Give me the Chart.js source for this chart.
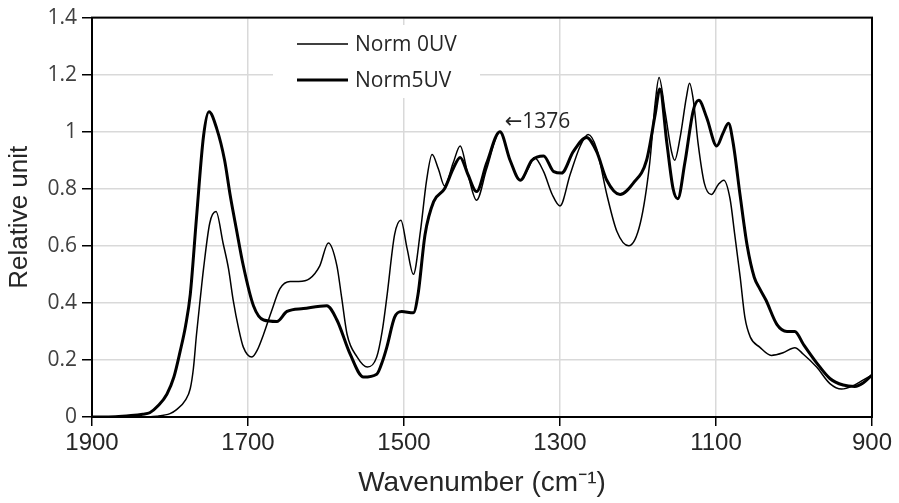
<!DOCTYPE html>
<html>
<head>
<meta charset="utf-8">
<script src="https://cdn.jsdelivr.net/npm/chart.js@4.4.1/dist/chart.umd.min.js"></script>
<style>
  html, body { margin: 0; padding: 0; background: #fff; }
  #wrap { width: 899px; height: 503px; }
</style>
</head>
<body>
<div id="wrap"><canvas id="ftirChart" width="899" height="503"></canvas></div>
<script>
// Wavenumbers (cm-1) and relative units
const wn0UV = [1900, 1840, 1817, 1800, 1792, 1780, 1774, 1770, 1766, 1761, 1757, 1749, 1741, 1732, 1725, 1719, 1712, 1706, 1695, 1688, 1680, 1670, 1659, 1646, 1635, 1621, 1608, 1597, 1586, 1580, 1573, 1560, 1547, 1535, 1528, 1522, 1512, 1504, 1496, 1488, 1479, 1471, 1464, 1456, 1448, 1437, 1428, 1418, 1407, 1394, 1377, 1364, 1351, 1341, 1333, 1321, 1310, 1300, 1287, 1274, 1264, 1253, 1240, 1227, 1212, 1197, 1185, 1178, 1173, 1165, 1157, 1153, 1146, 1138, 1134, 1129, 1123, 1115, 1106, 1097, 1090, 1082, 1076, 1069, 1063, 1056, 1044, 1029, 1014, 999, 988, 971, 954, 939, 924, 911, 900];
const norm0UV = [0, 0, 0.003, 0.012, 0.025, 0.06, 0.10, 0.17, 0.29, 0.42, 0.52, 0.68, 0.72, 0.61, 0.52, 0.41, 0.31, 0.245, 0.21, 0.235, 0.29, 0.37, 0.45, 0.475, 0.475, 0.485, 0.53, 0.61, 0.53, 0.42, 0.29, 0.21, 0.175, 0.21, 0.30, 0.42, 0.64, 0.69, 0.59, 0.50, 0.65, 0.83, 0.92, 0.87, 0.81, 0.89, 0.95, 0.85, 0.76, 0.87, 1.00, 0.90, 0.83, 0.87, 0.91, 0.86, 0.78, 0.74, 0.85, 0.95, 0.99, 0.94, 0.78, 0.65, 0.60, 0.68, 0.89, 1.10, 1.19, 1.065, 0.93, 0.90, 0.98, 1.12, 1.17, 1.11, 0.96, 0.82, 0.78, 0.815, 0.83, 0.765, 0.64, 0.49, 0.35, 0.28, 0.245, 0.216, 0.225, 0.243, 0.22, 0.175, 0.117, 0.098, 0.11, 0.13, 0.147];

const wn5UV = [1900, 1870, 1850, 1835, 1826, 1815, 1804, 1795, 1787, 1780, 1774, 1766, 1757, 1750, 1740, 1730, 1723, 1715, 1706, 1693, 1680, 1663, 1650, 1629, 1599, 1586, 1569, 1552, 1535, 1527, 1522, 1512, 1503, 1488, 1482, 1473, 1462, 1448, 1437, 1428, 1418, 1407, 1394, 1377, 1364, 1351, 1336, 1321, 1308, 1298, 1283, 1266, 1253, 1240, 1223, 1206, 1189, 1178, 1172, 1163, 1155, 1149, 1140, 1129, 1122, 1112, 1099, 1091, 1084, 1078, 1069, 1060, 1051, 1044, 1036, 1022, 1009, 999, 988, 971, 954, 937, 922, 911, 900];
const norm5UV = [0, 0.001, 0.005, 0.01, 0.015, 0.04, 0.08, 0.14, 0.23, 0.32, 0.43, 0.70, 0.985, 1.07, 1.01, 0.90, 0.78, 0.66, 0.53, 0.39, 0.34, 0.335, 0.37, 0.38, 0.39, 0.34, 0.22, 0.14, 0.15, 0.20, 0.245, 0.35, 0.37, 0.365, 0.43, 0.64, 0.755, 0.80, 0.87, 0.91, 0.85, 0.79, 0.89, 1.00, 0.90, 0.83, 0.90, 0.915, 0.86, 0.855, 0.93, 0.98, 0.93, 0.83, 0.78, 0.82, 0.90, 1.06, 1.15, 0.96, 0.80, 0.765, 0.89, 1.076, 1.11, 1.05, 0.95, 0.995, 1.03, 0.96, 0.775, 0.60, 0.49, 0.45, 0.41, 0.325, 0.30, 0.30, 0.255, 0.19, 0.135, 0.112, 0.107, 0.12, 0.147];

const seriesNames = ["Norm 0UV", "Norm5UV"];
const xTicks = [1900, 1700, 1500, 1300, 1100, 900];
const yTicks = [0, 0.2, 0.4, 0.6, 0.8, 1, 1.2, 1.4];
const peakLabel = { wn: 1376, value: 1.0, text: "\u21901376" };

function toPoints(xs, ys) {
    return xs.map((x, i) => ({ x: x, y: ys[i] }));
}

// Box round the plot area
const frame = {
    id: "frame",
    afterDatasetsDraw(chart) {
        const { ctx, chartArea: a } = chart;
        ctx.save();
        ctx.strokeStyle = "#000";
        ctx.lineWidth = 2;
        ctx.strokeRect(a.left, a.top, a.right - a.left, a.bottom - a.top);
        ctx.restore();
    }
};

// Legend drawn inside the plot, on a white box
const insideLegend = {
    id: "insideLegend",
    beforeDatasetsDraw(chart) {
        const ctx = chart.ctx;
        ctx.save();
        ctx.fillStyle = "#fff";
        ctx.fillRect(273, 25, 207, 73);
        const rows = [44, 80];
        chart.data.datasets.forEach((ds, i) => {
            ctx.strokeStyle = ds.borderColor;
            ctx.lineWidth = ds.borderWidth;
            ctx.beginPath();
            ctx.moveTo(297, rows[i]);
            ctx.lineTo(348, rows[i]);
            ctx.stroke();
            ctx.fillStyle = "#262626";
            ctx.font = "21px 'Open Sans', sans-serif";
            ctx.textBaseline = "middle";
            ctx.fillText(ds.label, 355, rows[i] + 1);
        });
        ctx.restore();
    },
    afterDatasetsDraw(chart) {
        const ctx = chart.ctx;
        const x = chart.scales.x.getPixelForValue(peakLabel.wn);
        const y = chart.scales.y.getPixelForValue(peakLabel.value);
        ctx.save();
        ctx.fillStyle = "#262626";
        ctx.font = "21px 'Open Sans', 'DejaVu Sans', sans-serif";
        ctx.textBaseline = "middle";
        ctx.fillText(peakLabel.text, x + 4, y - 10);
        ctx.restore();
    }
};

new Chart(document.getElementById("ftirChart"), {
    type: "line",
    data: {
        datasets: [{
            label: seriesNames[0],
            data: toPoints(wn0UV, norm0UV),
            borderColor: "#000",
            borderWidth: 1.5,
            pointRadius: 0,
            cubicInterpolationMode: "monotone",
            fill: false
        }, {
            label: seriesNames[1],
            data: toPoints(wn5UV, norm5UV),
            borderColor: "#000",
            borderWidth: 3,
            pointRadius: 0,
            cubicInterpolationMode: "monotone",
            fill: false
        }]
    },
    options: {
        responsive: false,
        animation: false,
        layout: { padding: { top: 13, right: 27, left: 0, bottom: 0 } },
        plugins: {
            legend: { display: false },
            tooltip: { enabled: false }
        },
        scales: {
            x: {
                type: "linear",
                reverse: true,
                min: 900,
                max: 1900,
                afterBuildTicks: scale => { scale.ticks = xTicks.map(v => ({ value: v })); },
                afterFit: scale => { scale.height = 86; },
                grid: { color: "#d9d9d9", lineWidth: 1.5, tickColor: "#000", tickWidth: 1.5, tickLength: 9 },
                border: { color: "#000", width: 2 },
                ticks: {
                    color: "#262626",
                    padding: 3,
                    maxRotation: 0,
                    callback: v => String(v),
                    font: { family: "'Liberation Sans', Arial, sans-serif", size: 24 }
                },
                title: {
                    display: true,
                    text: "Wavenumber (cm\u207B\u00B9)",
                    color: "#262626",
                    padding: { top: 0, bottom: 3 },
                    font: { family: "'Liberation Sans', Arial, sans-serif", size: 28 }
                }
            },
            y: {
                min: 0,
                max: 1.4,
                afterBuildTicks: scale => { scale.ticks = yTicks.map(v => ({ value: v })); },
                afterFit: scale => { scale.width = 92; },
                grid: { color: "#d9d9d9", lineWidth: 1.5, tickColor: "#000", tickWidth: 1.5, tickLength: 10 },
                border: { color: "#000", width: 2 },
                ticks: {
                    color: "#404040",
                    padding: 5,
                    callback: v => String(v),
                    font: { family: "'Open Sans', sans-serif", size: 21 }
                },
                title: {
                    display: true,
                    text: "Relative unit",
                    color: "#262626",
                    padding: { top: 4, bottom: 0 },
                    font: { family: "'Liberation Sans', Arial, sans-serif", size: 26 }
                }
            }
        }
    },
    plugins: [insideLegend, frame]
});
</script>
</body>
</html>
